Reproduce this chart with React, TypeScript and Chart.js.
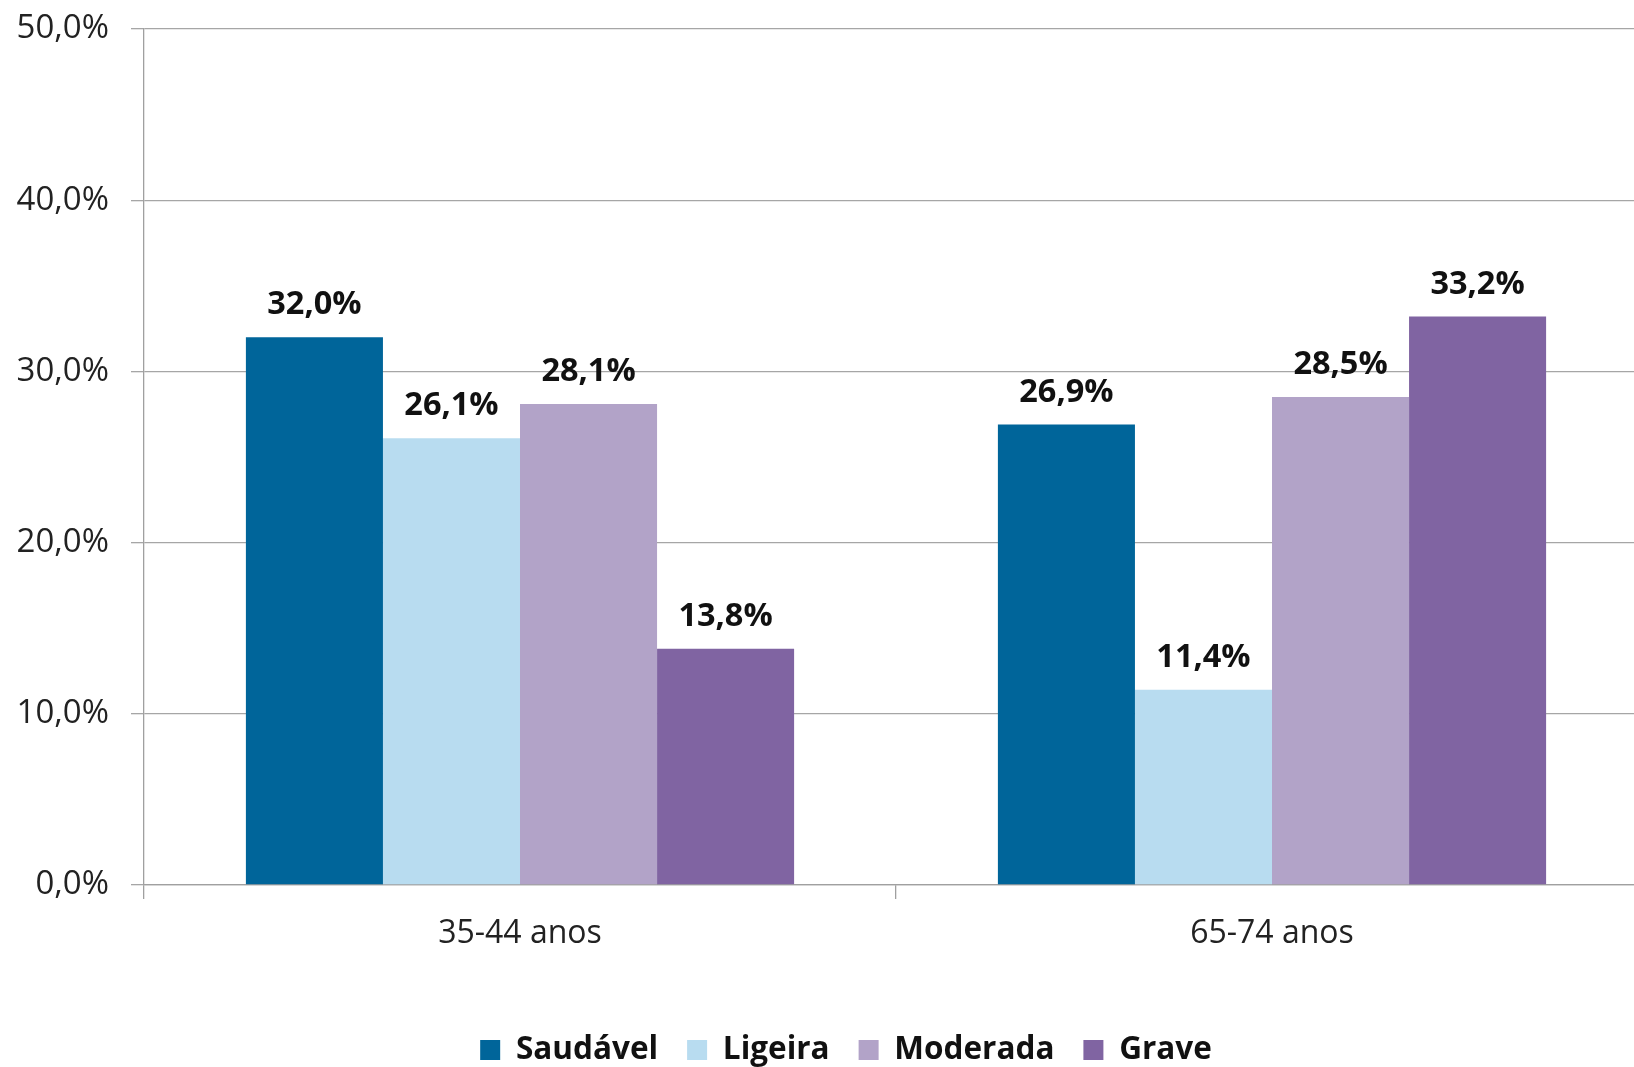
import React, { useEffect, useRef } from "react";
import { Chart, registerables } from "chart.js";

Chart.register(...registerables);

const categories = ["35-44 anos", "65-74 anos"];
const seriesNames = ["Saudável", "Ligeira", "Moderada", "Grave"];
const saudavel = [32.0, 26.9];
const ligeira = [26.1, 11.4];
const moderada = [28.1, 28.5];
const grave = [13.8, 33.2];
const seriesColors = ["#00659A", "#B8DCF0", "#B2A3C8", "#8064A2"];
const yTickValues = [0, 10, 20, 30, 40, 50];

const FONT = "'Open Sans', 'DejaVu Sans', sans-serif";
const LEGEND_SIZE = 31.5;
const LEGEND_PAD = 29;

const fmt = (v: number) => v.toFixed(1).replace(".", ",") + "%";

const labelPlugin = {
  id: "barLabels",
  afterDatasetsDraw(chart: any) {
    const ctx = chart.ctx;
    ctx.save();
    ctx.font = `bold 32.5px ${FONT}`;
    ctx.fillStyle = "#111";
    ctx.textAlign = "center";
    ctx.textBaseline = "middle";
    chart.data.datasets.forEach((ds: any, i: number) => {
      const meta = chart.getDatasetMeta(i);
      meta.data.forEach((bar: any, j: number) => {
        ctx.fillText(fmt(ds.data[j]), bar.x, bar.y - 32);
      });
    });
    ctx.restore();
  },
};

const legendShift = {
  id: "legendShift",
  afterLayout(chart: any) {
    const lg = chart.legend;
    if (lg) {
      const h = lg.bottom - lg.top;
      lg.left = 44;
      lg.right = 1648;
      lg.top = 1050 - LEGEND_PAD - LEGEND_SIZE / 2;
      lg.bottom = lg.top + h;
    }
  },
};

export default function App() {
  const ref = useRef<HTMLCanvasElement>(null);
  useEffect(() => {
    if (!ref.current) return;
    const allSeries = [saudavel, ligeira, moderada, grave];
    const chart = new Chart(ref.current, {
      type: "bar",
      data: {
        labels: categories,
        datasets: allSeries.map((d, i) => ({
          label: seriesNames[i],
          data: d,
          backgroundColor: seriesColors[i],
          borderWidth: 0,
          categoryPercentage: 0.729,
          barPercentage: 1.0,
        })),
      },
      options: {
        animation: false,
        responsive: false,
        maintainAspectRatio: false,
        layout: { padding: { left: 0, right: 42, top: 29, bottom: 6 } },
        plugins: {
          legend: {
            position: "bottom",
            labels: {
              font: { family: FONT, size: LEGEND_SIZE, weight: "bold" },
              color: "#111",
              boxWidth: 20,
              boxHeight: 20,
              padding: LEGEND_PAD,
            },
          },
          tooltip: { enabled: false },
        },
        scales: {
          x: {
            grid: {
              drawOnChartArea: false,
              drawTicks: true,
              tickLength: 14,
              color: "#a0a0a0",
              lineWidth: 1.3,
            },
            border: { color: "#a0a0a0", width: 1.3 },
            ticks: {
              font: { family: FONT, size: 32 },
              color: "#222",
              padding: 16,
            },
            afterFit: (s: any) => {
              s.height = 105.5;
            },
          },
          y: {
            min: 0,
            max: 50,
            afterBuildTicks: (s: any) => {
              s.ticks = yTickValues.map((v) => ({ value: v }));
            },
            grid: {
              color: "#a6a6a6",
              lineWidth: 1.3,
              tickLength: 13,
            },
            border: { color: "#a0a0a0", width: 1.3 },
            ticks: {
              font: { family: FONT, size: 33 },
              color: "#222",
              padding: 22,
              callback: (v: any) => fmt(Number(v)),
            },
            afterFit: (s: any) => {
              s.width = 144;
              s.paddingTop = 0;
              s.paddingBottom = 0;
            },
          },
        },
      },
      plugins: [labelPlugin, legendShift],
    });
    return () => chart.destroy();
  }, []);
  return (
    <div
      style={{
        position: "fixed",
        left: 0,
        top: 0,
        width: 1634,
        height: 1067,
        overflow: "hidden",
        background: "#fff",
      }}
    >
      <canvas ref={ref} width={1690} height={1067} style={{ width: 1690, height: 1067 }} />
    </div>
  );
}
